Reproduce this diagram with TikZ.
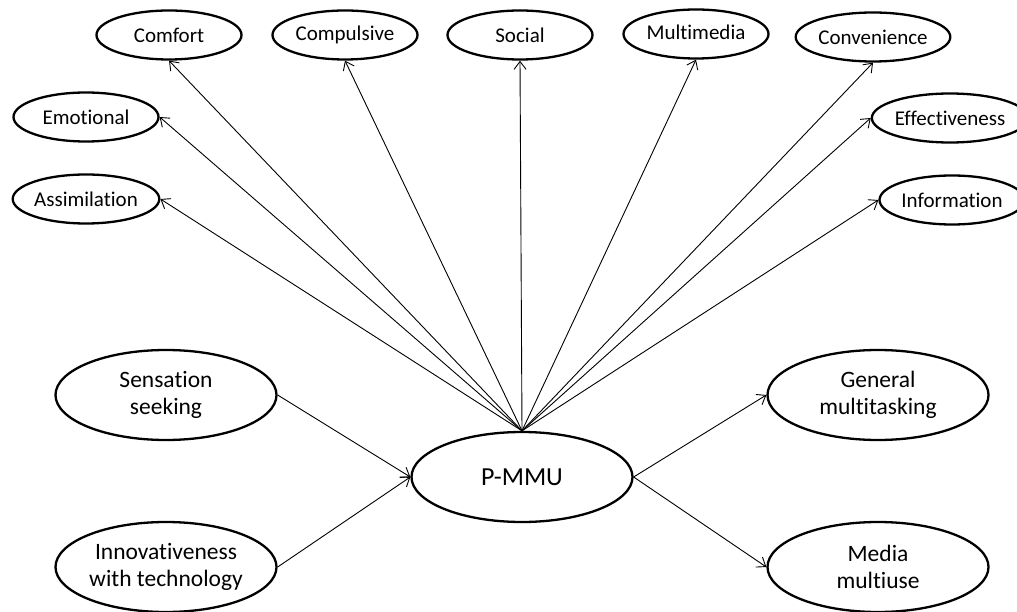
\documentclass[tikz,border=0pt]{standalone}
\usepackage{fontspec}
\setmainfont[Ligatures=NoCommon]{Carlito}
\usetikzlibrary{shapes.geometric,arrows.meta}
\tikzset{
  small/.style={ellipse,draw,line width=2.3pt,inner sep=0pt,minimum width=145pt,minimum height=49pt,font=\fontsize{21}{24}\selectfont},
  big/.style={ellipse,draw,line width=2.3pt,inner sep=0pt,minimum width=221pt,minimum height=90pt,align=center,font=\fontsize{23.5}{27}\selectfont},
  con/.style={line width=0.9pt,-{Straight Barb[length=8pt,width=12pt,line width=0.9pt]}}
}
\begin{document}
\begin{tikzpicture}[x=1pt,y=-1pt]
\useasboundingbox (0,0) rectangle (1017,612);
\node[small] (comfort) at (169,35) {Comfort};
\node[small] (compulsive) at (345,35) {Compulsive};
\node[small] (social) at (520,35) {Social};
\node[small] (multimedia) at (696,34) {\raisebox{3pt}{Multimedia}};
\node[small] (convenience) at (873,37) {Convenience};
\node[small] (emotional) at (86,117) {Emotional};
\node[small] (assimilation) at (86,199) {Assimilation};
\node[small] (effectiveness) at (950,118) {Effectiveness};
\node[small] (information) at (952,200) {Information};
\node[big] (sensation) at (166,395) {Sensation\\seeking};
\node[big] (innov) at (166,567) {Innovativeness\\with technology};
\node[big,font=\fontsize{26}{30}\selectfont] (pmmu) at (522,477) {P-MMU};
\node[big] (general) at (878,395) {General\\multitasking};
\node[big] (media) at (878,567) {Media\\multiuse};
\foreach \t/\a in {comfort/south,compulsive/south,social/south,multimedia/south,convenience/south,emotional/east,assimilation/east,effectiveness/west,information/west}
  \draw[con] (pmmu.north) -- (\t.\a);
\draw[con] (sensation.east) -- (pmmu.west);
\draw[con] (innov.east) -- (pmmu.west);
\draw[con] (pmmu.east) -- (general.west);
\draw[con] (pmmu.east) -- (media.west);
\end{tikzpicture}
\end{document}
